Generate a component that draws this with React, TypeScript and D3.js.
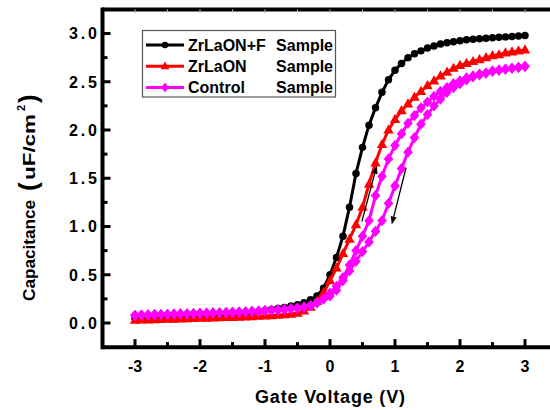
import React from "react";
import * as d3 from "d3";

const volts = [
  -3.0, -2.9, -2.8, -2.7, -2.6, -2.5, -2.4, -2.3, -2.2, -2.1,
  -2.0, -1.9, -1.8, -1.7, -1.6, -1.5, -1.4, -1.3, -1.2, -1.1,
  -1.0, -0.9, -0.8, -0.7, -0.6, -0.5, -0.4, -0.3, -0.2, -0.1,
  0.0, 0.1, 0.2, 0.3, 0.4, 0.5, 0.6, 0.7, 0.8, 0.9,
  1.0, 1.1, 1.2, 1.3, 1.4, 1.5, 1.6, 1.7, 1.8, 1.9,
  2.0, 2.1, 2.2, 2.3, 2.4, 2.5, 2.6, 2.7, 2.8, 2.9, 3.0,
];

const zrlaonF = [
  0.05, 0.05, 0.055, 0.06, 0.06, 0.065, 0.065, 0.07, 0.07, 0.075,
  0.08, 0.08, 0.085, 0.09, 0.09, 0.095, 0.1, 0.105, 0.11, 0.12,
  0.13, 0.14, 0.15, 0.16, 0.175, 0.19, 0.21, 0.24, 0.28, 0.36,
  0.5, 0.68, 0.9, 1.2, 1.55, 1.82, 2.05, 2.23, 2.39, 2.52,
  2.62, 2.69, 2.75, 2.79, 2.82, 2.85, 2.87, 2.89, 2.905, 2.915,
  2.925, 2.935, 2.94, 2.945, 2.95, 2.955, 2.96, 2.965, 2.97, 2.975, 2.98,
];

const zrlaon = [
  0.03, 0.031, 0.033, 0.035, 0.037, 0.039, 0.041, 0.043, 0.045, 0.047,
  0.049, 0.051, 0.053, 0.055, 0.057, 0.059, 0.061, 0.064, 0.067, 0.07,
  0.073, 0.077, 0.081, 0.086, 0.093, 0.103, 0.125, 0.165, 0.225, 0.315,
  0.44, 0.57, 0.72, 0.87, 1.02, 1.2, 1.44, 1.66, 1.85, 2.0,
  2.11, 2.2, 2.27, 2.34, 2.4, 2.46, 2.51, 2.56, 2.6, 2.64,
  2.67, 2.69, 2.71, 2.73, 2.75, 2.77, 2.78, 2.8, 2.81, 2.82, 2.83,
];

const controlFwd = [
  0.08, 0.082, 0.084, 0.086, 0.088, 0.09, 0.092, 0.094, 0.096, 0.098,
  0.1, 0.102, 0.104, 0.106, 0.108, 0.11, 0.113, 0.116, 0.12, 0.124,
  0.128, 0.132, 0.137, 0.142, 0.148, 0.155, 0.165, 0.18, 0.21, 0.25,
  0.31, 0.38, 0.47, 0.6, 0.75, 0.9, 1.06, 1.32, 1.52, 1.7,
  1.84, 1.96, 2.07, 2.15, 2.23, 2.29, 2.35, 2.4, 2.44, 2.48,
  2.51, 2.54, 2.56, 2.58, 2.59, 2.61, 2.62, 2.63, 2.64, 2.65, 2.66,
];

const controlRev = [
  0.08, 0.082, 0.084, 0.086, 0.088, 0.09, 0.092, 0.094, 0.096, 0.098,
  0.1, 0.102, 0.104, 0.106, 0.108, 0.11, 0.113, 0.116, 0.12, 0.124,
  0.128, 0.132, 0.137, 0.142, 0.148, 0.155, 0.165, 0.18, 0.21, 0.25,
  0.28, 0.34, 0.44, 0.54, 0.64, 0.74, 0.84, 0.95, 1.06, 1.24,
  1.42, 1.6, 1.77, 1.92, 2.06, 2.16, 2.25, 2.32, 2.39, 2.44,
  2.48, 2.52, 2.55, 2.57, 2.59, 2.61, 2.62, 2.63, 2.64, 2.65, 2.66,
];

const xTicks = [-3, -2, -1, 0, 1, 2, 3];
const xMinor = [-2.5, -1.5, -0.5, 0.5, 1.5, 2.5];
const yTicks = [0, 0.5, 1, 1.5, 2, 2.5, 3];
const yTickLabels = ["0.0", "0.5", "1.0", "1.5", "2.0", "2.5", "3.0"];
const yMinor = [0.25, 0.75, 1.25, 1.75, 2.25, 2.75];
const legendNames = ["ZrLaON+F", "ZrLaON", "Control"];

const FONT = "'Liberation Sans', Arial, sans-serif";

const x = d3.scaleLinear().domain([-3, 3]).range([135, 525]);
const y = d3.scaleLinear().domain([0, 3]).range([323, 33.5]);

const X0 = x(-3.5);
const X1 = 560;
const Y0 = y(-0.25);
const Y1 = y(3.25);

type Marker = "circle" | "triangle" | "diamond";

function markerPath(kind: Marker): string {
  if (kind === "circle") return d3.symbol(d3.symbolCircle, 44)()!;
  if (kind === "triangle") return "M0,-5.6L5.2,3.6L-5.2,3.6Z";
  return "M0,-5.6L4.8,0L0,5.6L-4.8,0Z";
}

const series = [
  { name: legendNames[0], color: "#000000", marker: "circle" as Marker, values: [zrlaonF] },
  { name: legendNames[1], color: "#ff0000", marker: "triangle" as Marker, values: [zrlaon] },
  { name: legendNames[2], color: "#ff00ff", marker: "diamond" as Marker, values: [controlFwd, controlRev] },
];

const line = d3
  .line<number>()
  .x((_, i) => x(volts[i]))
  .y((d) => y(d))
  .curve(d3.curveLinear);

function Arrow({ x1, y1, x2, y2 }: { x1: number; y1: number; x2: number; y2: number }) {
  const ang = Math.atan2(y2 - y1, x2 - x1);
  const L = 8;
  const W = 3;
  const bx = x2 - L * Math.cos(ang);
  const by = y2 - L * Math.sin(ang);
  const px = -Math.sin(ang) * W;
  const py = Math.cos(ang) * W;
  return (
    <g>
      <line x1={x1} y1={y1} x2={bx} y2={by} stroke="#000" strokeWidth={1.3} />
      <path d={`M${x2},${y2}L${bx + px},${by + py}L${bx - px},${by - py}Z`} fill="#000" />
    </g>
  );
}

export default function App() {
  const mp = {
    circle: markerPath("circle"),
    triangle: markerPath("triangle"),
    diamond: markerPath("diamond"),
  };
  return (
    <svg
      width={550}
      height={410}
      style={{ position: "absolute", left: 0, top: 0, background: "#fff" }}
      fontFamily={FONT}
    >
      <rect x={0} y={0} width={550} height={410} fill="#fff" />

      {/* series */}
      {series.map((s) =>
        s.values.map((vals, k) => (
          <g key={s.name + k}>
            <path d={line(vals)!} fill="none" stroke={s.color} strokeWidth={3} />
            {vals.map((v, i) => (
              <path
                key={i}
                d={mp[s.marker]}
                transform={`translate(${x(volts[i])},${y(v)})`}
                fill={s.color}
              />
            ))}
          </g>
        ))
      )}

      {/* arrows */}
      <Arrow x1={x(0.49)} y1={y(1.05)} x2={x(0.72)} y2={y(1.63)} />
      <Arrow x1={x(1.17)} y1={y(1.61)} x2={x(0.95)} y2={y(1.02)} />

      {/* frame */}
      <line x1={X0} y1={Y1} x2={X1} y2={Y1} stroke="#000" strokeWidth={4} />
      <line x1={X0} y1={Y0} x2={X1} y2={Y0} stroke="#000" strokeWidth={4} />
      <line x1={X0} y1={Y1 - 2} x2={X0} y2={Y0 + 2} stroke="#000" strokeWidth={4} />

      {/* x ticks */}
      {xTicks.map((t) => (
        <g key={"xt" + t}>
          <line x1={x(t)} x2={x(t)} y1={Y0} y2={Y0 - 8} stroke="#000" strokeWidth={3} />
          <line x1={x(t)} x2={x(t)} y1={Y1} y2={Y1 + 4} stroke="#bbb" strokeWidth={1} />
          <text x={x(t)} y={372} textAnchor="middle" fontSize={16} fontWeight="bold">
            {t}
          </text>
        </g>
      ))}
      {xMinor.map((t) => (
        <g key={"xm" + t}>
          <line x1={x(t)} x2={x(t)} y1={Y0} y2={Y0 - 5} stroke="#000" strokeWidth={3} />
          <line x1={x(t)} x2={x(t)} y1={Y1} y2={Y1 + 3} stroke="#bbb" strokeWidth={1} />
        </g>
      ))}

      {/* y ticks */}
      {yTicks.map((t, i) => (
        <g key={"yt" + t}>
          <line x1={X0} x2={X0 + 8} y1={y(t)} y2={y(t)} stroke="#000" strokeWidth={3} />
          <text
            x={97}
            y={y(t) + 5.8}
            textAnchor="end"
            fontSize={16}
            fontWeight="bold"
            textLength={28}
            lengthAdjust="spacing"
          >
            {yTickLabels[i]}
          </text>
        </g>
      ))}
      {yMinor.map((t) => (
        <line key={"ym" + t} x1={X0} x2={X0 + 5} y1={y(t)} y2={y(t)} stroke="#000" strokeWidth={3} />
      ))}

      {/* axis titles */}
      <text x={330} y={403} textAnchor="middle" fontSize={18} fontWeight="bold" textLength={150} lengthAdjust="spacing">
        Gate Voltage (V)
      </text>
      <g transform="translate(35,301) rotate(-90)" fontWeight="bold">
        <text x={0} y={0} fontSize={17} textLength={101} lengthAdjust="spacingAndGlyphs">
          Capacitance
        </text>
        <text x={110} y={2} fontSize={26}>(</text>
        <text x={121} y={0} fontSize={17} textLength={66} lengthAdjust="spacingAndGlyphs">
          uF/cm
        </text>
        <text x={190} y={-10} fontSize={11}>2</text>
        <text x={198} y={2} fontSize={26}>)</text>
      </g>

      {/* legend */}
      <rect x={142.5} y={30.5} width={193} height={66.5} fill="#fff" stroke="#555" strokeWidth={1.2} />
      {series.map((s, i) => {
        const ly = 45 + i * 21.3;
        return (
          <g key={"lg" + i}>
            <line x1={146} x2={184} y1={ly} y2={ly} stroke={s.color} strokeWidth={3} />
            <path d={mp[s.marker]} transform={`translate(165,${ly}) scale(0.85)`} fill={s.color} />
            <text x={188} y={ly + 5.8} fontSize={16} fontWeight="bold">
              {s.name}
            </text>
            <text x={333} y={ly + 5.8} fontSize={16} fontWeight="bold" textAnchor="end">
              Sample
            </text>
          </g>
        );
      })}
    </svg>
  );
}
